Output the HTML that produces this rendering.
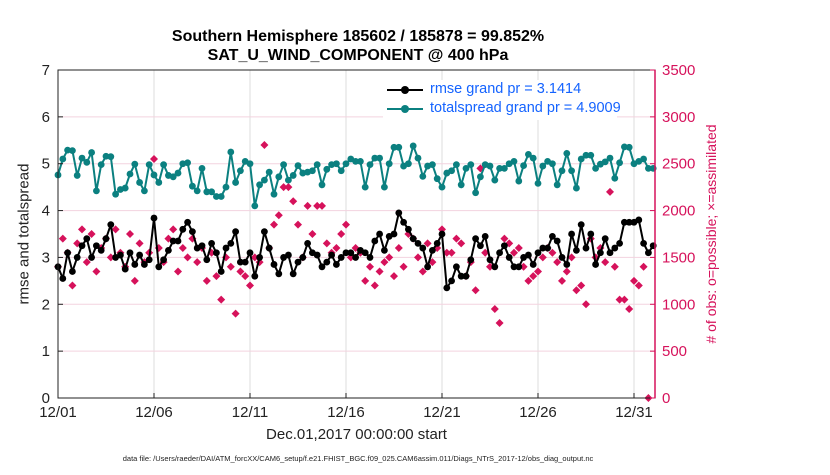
<!DOCTYPE html>
<html><head><meta charset="utf-8"><style>
body{margin:0;background:#fff;font-family:"Liberation Sans",sans-serif}
svg text{font-family:"Liberation Sans",sans-serif}
</style></head><body>
<svg id="c" width="830" height="470"></svg>
<script>
const rmse=[2.8,2.55,3.1,2.7,3.0,3.25,3.4,3.0,3.25,3.15,3.4,3.7,3.0,3.05,2.75,3.1,2.85,3.05,2.85,2.95,3.84,2.8,2.95,3.15,3.35,3.35,3.6,3.75,3.55,3.2,3.25,2.95,
3.3,3.1,2.7,3.2,3.3,3.55,2.9,2.9,3.1,2.6,3.0,3.55,3.2,2.85,2.65,3.0,3.05,2.65,2.9,3.0,3.3,3.1,3.05,2.8,2.9,3.05,2.85,3.0,3.1,3.1,3.0,3.15,
3.1,3.0,3.35,3.5,3.15,3.45,3.5,3.95,3.75,3.6,3.4,3.3,3.2,2.8,3.15,3.3,3.5,2.35,2.5,2.8,2.6,2.6,2.95,3.4,3.25,3.45,2.95,2.8,3.1,3.25,3.0,2.8,
2.8,3.0,3.05,2.85,3.1,3.2,3.2,3.45,3.35,3.0,2.85,3.5,3.15,3.7,3.2,3.5,2.85,3.1,3.4,3.1,3.2,3.3,3.75,3.75,3.75,3.8,3.3,3.1,3.25];
const spread=[4.76,5.1,5.29,5.28,4.75,5.12,5.03,5.24,4.42,4.98,5.16,5.15,4.35,4.45,4.48,4.78,4.99,4.6,4.42,4.98,4.76,4.6,4.98,4.75,4.72,4.8,5.0,5.02,4.52,4.42,4.9,4.4,
4.4,4.3,4.3,4.5,5.25,4.6,4.85,5.05,5.0,4.1,4.55,4.65,4.82,4.35,4.72,4.98,4.65,4.75,4.96,4.8,4.82,4.85,4.98,4.55,4.88,4.98,5.0,4.85,5.0,5.1,5.05,5.05,
4.5,4.98,5.12,5.12,4.5,5.0,5.35,5.35,4.95,5.0,5.38,5.12,4.73,4.95,4.98,4.68,4.5,4.8,4.85,4.98,4.55,4.9,4.98,4.38,4.72,4.98,4.95,4.65,4.9,4.9,5.0,5.05,
4.63,4.96,5.2,5.12,4.58,4.95,5.05,5.0,4.55,4.85,5.22,4.85,4.48,5.1,5.18,5.18,4.9,4.99,5.04,5.12,4.69,5.02,5.36,5.35,5.0,5.05,5.1,4.9,4.9];
const obs=[1400,1700,1550,1200,1650,1800,1450,1750,1350,1600,1700,1500,1800,1550,1400,1750,1250,1650,1450,1550,2550,1600,1450,1700,1800,1350,1600,1500,1700,1450,1600,1250,
1550,1300,1050,1500,1400,900,1350,1300,1200,1500,1450,2700,1600,1850,1950,2250,2250,2100,1850,1500,2050,1750,2050,2050,1650,1550,1600,1750,1850,1500,1600,1550,
1250,1400,1200,1350,1450,1500,1300,1600,1400,1750,1700,1500,1350,1650,1450,1600,1800,1550,1550,1700,1650,1300,1450,1150,2450,1550,1400,950,800,1700,1650,1550,
1600,1400,1250,1300,1350,1500,1600,1550,1450,1250,1350,1500,1150,1200,1000,1700,1500,1600,1450,2200,1400,1050,1050,950,1250,1200,1400,0];
const xTicks=['12/01','12/06','12/11','12/16','12/21','12/26','12/31'];
const yTicks=[0,1,2,3,4,5,6,7];
const y2Ticks=[0,500,1000,1500,2000,2500,3000,3500];

const NS='http://www.w3.org/2000/svg',svg=document.getElementById('c');
const L=58,R=655,T=70,B=398;
const xs=d=>L+d*19.2, ys=v=>B-v*(B-T)/7, y2=v=>B-v*(B-T)/3500;
function el(t,a,p){const e=document.createElementNS(NS,t);for(const k in a)e.setAttribute(k,a[k]);(p||svg).appendChild(e);return e;}
el('rect',{x:L,y:T,width:R-L,height:B-T,fill:'#fff'});
const grid=el('g',{});
xTicks.forEach((t,i)=>el('line',{x1:xs(i*5),x2:xs(i*5),y1:T,y2:B,stroke:'#ddd','stroke-width':1},grid));
yTicks.forEach(v=>el('line',{x1:L,x2:R,y1:ys(v),y2:ys(v),stroke:'#f3d3df','stroke-width':1},grid));
const og=el('g',{fill:'#d6125b'});
obs.forEach((v,i)=>{const x=xs(i*0.25),y=y2(v);const p=el('path',{d:`M${x} ${y-4}L${x+4} ${y}L${x} ${y+4}L${x-4} ${y}Z`},og);});
function series(vals,col,name){const g=el('g',{});
el('polyline',{points:vals.map((v,i)=>xs(i*0.25)+','+ys(v)).join(' '),fill:'none',stroke:col,'stroke-width':2},g);
vals.forEach((v,i)=>el('circle',{cx:xs(i*0.25),cy:ys(v),r:3.4,fill:col},g));}
series(spread,'#0b8080','totalspread-series');
series(rmse,'#000','rmse-series');
el('rect',{x:L,y:T,width:R-L,height:B-T,fill:'none',stroke:'#222'});
el('line',{x1:R,x2:R,y1:T,y2:B,stroke:'#d6125b','stroke-width':1.5});
const xa=el('g',{});
xTicks.forEach((t,i)=>{const x=xs(i*5);el('line',{x1:x,x2:x,y1:B,y2:B-5,stroke:'#222'},xa);const s=el('text',{x:x,y:B+19,'text-anchor':'middle','font-size':15,fill:'#222'},xa);s.textContent=t;});
const ya=el('g',{});
yTicks.forEach(v=>{el('line',{x1:L,x2:L+5,y1:ys(v),y2:ys(v),stroke:'#222'},ya);const s=el('text',{x:L-8,y:ys(v)+5,'text-anchor':'end','font-size':15,fill:'#222'},ya);s.textContent=v;});
const yb=el('g',{});
y2Ticks.forEach(v=>{el('line',{x1:R,x2:R-5,y1:y2(v),y2:y2(v),stroke:'#d6125b'},yb);const s=el('text',{x:R+7,y:y2(v)+5,'font-size':15,fill:'#d6125b'},yb);s.textContent=v;});
</script>
<div style="position:absolute;left:0;top:0;width:830px;height:470px;pointer-events:none">
<div style="position:absolute;left:0;width:716px;top:27px;text-align:center;font-weight:bold;font-size:16px;line-height:19px;color:#000">Southern Hemisphere 185602 / 185878 = 99.852%<br>SAT_U_WIND_COMPONENT @ 400 hPa</div>
<div style="position:absolute;left:58px;width:597px;top:426px;text-align:center;font-size:15px;color:#222">Dec.01,2017 00:00:00 start</div>
<div style="position:absolute;left:24px;top:234px;font-size:15px;color:#222;transform:translate(-50%,-50%) rotate(-90deg);white-space:nowrap">rmse and totalspread</div>
<div style="position:absolute;left:711px;top:234px;font-size:14px;color:#d6125b;transform:translate(-50%,-50%) rotate(-90deg);white-space:nowrap"># of obs: o=possible; &#215;=assimilated</div>
<div style="position:absolute;left:383px;top:80px;width:234px;height:40px;background:#fff;font-size:14.5px;color:#1463ff;line-height:19px;white-space:nowrap">
<div style="position:relative;padding-left:47px"><span style="position:absolute;left:4px;top:9px;width:36px;height:2px;background:#000"></span><span style="position:absolute;left:18px;top:6px;width:8px;height:8px;border-radius:50%;background:#000"></span>rmse grand pr = 3.1414</div>
<div style="position:relative;padding-left:47px"><span style="position:absolute;left:4px;top:9px;width:36px;height:2px;background:#0b8080"></span><span style="position:absolute;left:18px;top:6px;width:8px;height:8px;border-radius:50%;background:#0b8080"></span>totalspread grand pr = 4.9009</div>
</div>
<div style="position:absolute;left:0;width:716px;top:454px;text-align:center;font-size:7.5px;color:#222">data file: /Users/raeder/DAI/ATM_forcXX/CAM6_setup/f.e21.FHIST_BGC.f09_025.CAM6assim.011/Diags_NTrS_2017-12/obs_diag_output.nc</div>
</div>
</body></html>
